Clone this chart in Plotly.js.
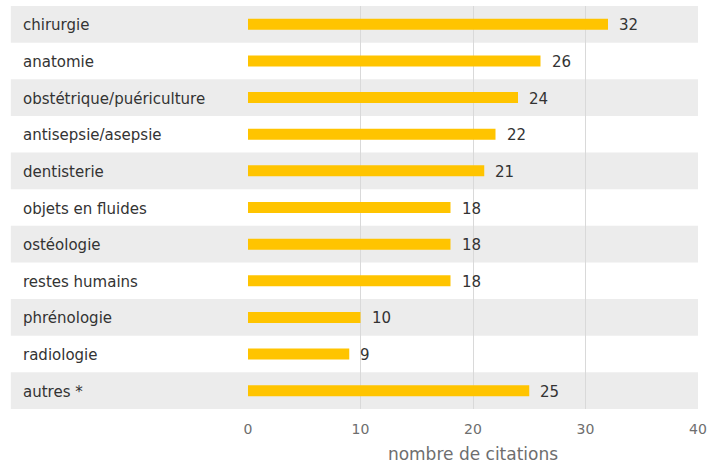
<!DOCTYPE html>
<html>
<head>
<meta charset="utf-8">
<script src="https://cdn.plot.ly/plotly-3.0.1.min.js"></script>
<style>html,body{margin:0;padding:0;background:#fff;}#chart{width:709px;height:470px;}</style>
</head>
<body>
<div id="chart"></div>
<script>
const categories = ["chirurgie","anatomie","obstétrique/puériculture","antisepsie/asepsie","dentisterie","objets en fluides","ostéologie","restes humains","phrénologie","radiologie","autres *"];
const values = [32,26,24,22,21,18,18,18,10,9,25];
const xTickValues = [0,10,20,30,40];
const xTitle = "nombre de citations";

const FAMILY = "'DejaVu Sans', sans-serif";
const labelFont = {family: FAMILY, size: 15, color: "#333333"};
const tickFont = {family: FAMILY, size: 14, color: "#6e6e6e"};

const shapes = [];
categories.forEach((c, i) => {
  if (i % 2 === 0) {
    shapes.push({type: "rect", xref: "paper", yref: "y", x0: -0.527, x1: 1, y0: i - 0.5, y1: i + 0.5,
      fillcolor: "#ececec", line: {width: 0}, layer: "below"});
  }
});

const annotations = [];
categories.forEach((c, i) => {
  annotations.push({xref: "paper", yref: "y", x: -0.505, y: c, text: c, showarrow: false,
    xanchor: "left", yanchor: "middle", yshift: -1, font: labelFont});
  annotations.push({xref: "x", yref: "y", x: values[i], y: c, text: String(values[i]), showarrow: false,
    xanchor: "left", yanchor: "middle", xshift: 9, yshift: -1, font: labelFont});
});

const trace = {
  type: "bar", orientation: "h", x: values, y: categories,
  marker: {color: "#ffc400"}, width: 0.3, hoverinfo: "none"
};

const layout = {
  width: 709, height: 470,
  margin: {l: 248, r: 11, t: 6, b: 61},
  paper_bgcolor: "#ffffff", plot_bgcolor: "rgba(0,0,0,0)",
  showlegend: false,
  xaxis: {range: [0, 40], tickvals: xTickValues, ticktext: xTickValues.map(String),
    showgrid: true, gridcolor: "#d9d9d9", gridwidth: 1, zeroline: false, showline: false,
    tickfont: tickFont, ticks: "", ticklen: 0, ticklabelstandoff: 10,
    title: {text: xTitle, font: {family: FAMILY, size: 17, color: "#6e6e6e"}, standoff: 12},
    fixedrange: true},
  yaxis: {type: "category", autorange: false, range: [10.5, -0.5], showticklabels: false,
    showgrid: false, zeroline: false, showline: false, ticks: "", fixedrange: true},
  shapes: shapes,
  annotations: annotations
};

Plotly.newPlot("chart", [trace], layout, {displayModeBar: false, staticPlot: true});
</script>
</body>
</html>
